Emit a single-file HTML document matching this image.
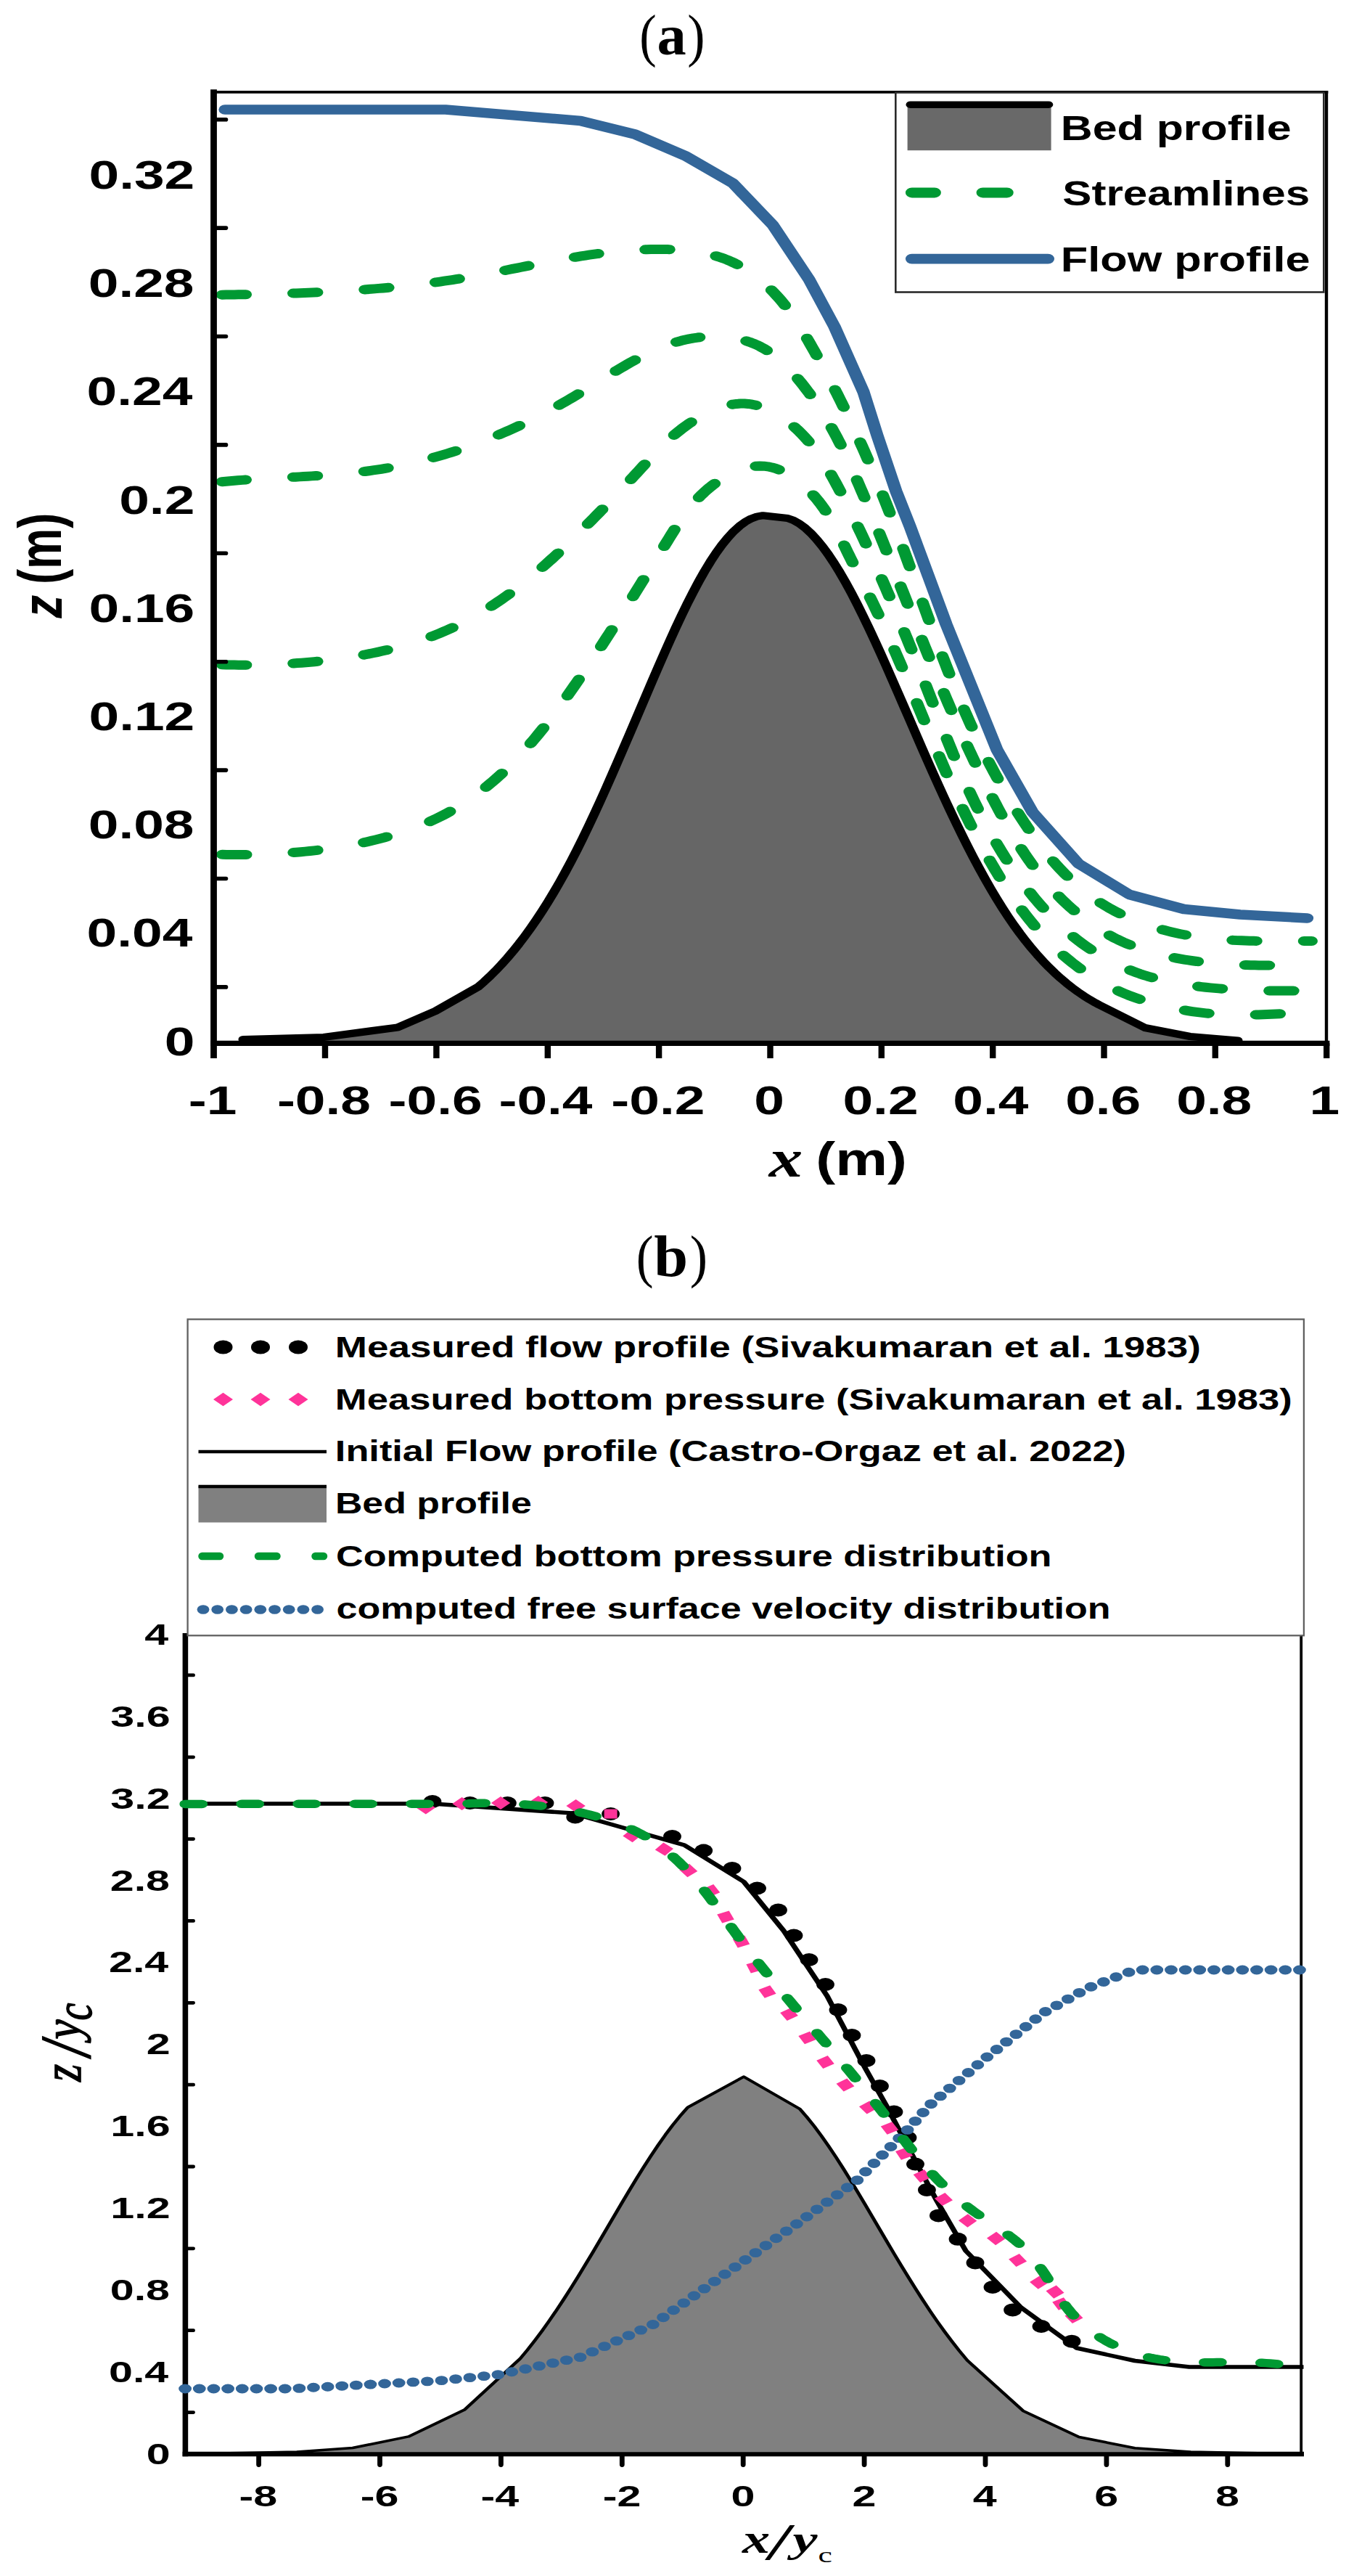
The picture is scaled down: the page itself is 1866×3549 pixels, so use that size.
<!DOCTYPE html>
<html><head><meta charset="utf-8"><title>Figure</title>
<style>html,body{margin:0;padding:0;background:#fff}svg{display:block}text{white-space:pre}</style>
</head><body>
<svg width="1866" height="3549" viewBox="0 0 1866 3549">
<rect width="1866" height="3549" fill="#fff"/>
<g transform="scale(1.28 1)" fill="none" stroke-linejoin="round">
<polygon points="261.72,1437.30 261.72,1432.00 348.44,1429.00 428.12,1415.50 468.75,1393.00 514.92,1359.50 521.17,1352.55 527.42,1345.11 533.67,1337.19 539.92,1328.77 546.17,1319.85 552.42,1310.42 558.67,1300.48 564.92,1290.00 571.17,1279.00 577.42,1267.46 583.67,1255.37 589.92,1242.73 596.17,1229.53 602.42,1215.75 608.67,1201.41 614.92,1186.48 621.17,1170.97 627.42,1154.89 633.67,1138.32 639.92,1121.28 646.17,1103.85 652.42,1086.07 658.67,1067.99 664.92,1049.68 671.17,1031.17 677.42,1012.52 683.67,993.79 689.92,975.03 696.17,956.29 702.42,937.62 708.67,919.10 714.92,900.81 721.17,882.86 727.42,865.31 733.67,848.27 739.92,831.81 746.17,816.04 752.42,801.04 758.67,786.90 764.92,773.70 771.17,761.54 777.42,750.50 783.67,740.66 789.92,732.07 796.17,724.81 802.42,718.94 808.67,714.52 814.92,711.63 821.17,710.33 821.56,710.30 848.05,714.00 854.30,716.93 860.55,721.39 866.80,727.30 873.05,734.59 879.30,743.17 885.55,752.96 891.80,763.89 898.05,775.87 904.30,788.82 910.55,802.67 916.80,817.33 923.05,832.73 929.30,848.78 935.55,865.41 941.80,882.52 948.05,900.06 954.30,917.93 960.55,936.05 966.80,954.35 973.05,972.76 979.30,991.23 985.55,1009.67 991.80,1028.04 998.05,1046.28 1004.30,1064.31 1010.55,1082.11 1016.80,1099.62 1023.05,1116.78 1029.30,1133.56 1035.55,1149.93 1041.80,1165.86 1048.05,1181.33 1054.30,1196.32 1060.55,1210.80 1066.80,1224.76 1073.05,1238.16 1079.30,1251.00 1085.55,1263.24 1091.80,1274.87 1098.05,1285.89 1104.30,1296.34 1110.55,1306.21 1116.80,1315.53 1123.05,1324.31 1129.30,1332.56 1135.55,1340.30 1141.80,1347.56 1148.05,1354.33 1154.30,1360.64 1160.55,1366.50 1166.80,1371.93 1173.05,1376.94 1179.30,1381.55 1183.59,1384.50 1232.81,1416.00 1281.25,1428.00 1332.81,1433.50 1332.81,1437.30" fill="#666" stroke="none"/>
<polyline points="261.72,1432.00 348.44,1429.00 428.12,1415.50 468.75,1393.00 514.92,1359.50 521.17,1352.55 527.42,1345.11 533.67,1337.19 539.92,1328.77 546.17,1319.85 552.42,1310.42 558.67,1300.48 564.92,1290.00 571.17,1279.00 577.42,1267.46 583.67,1255.37 589.92,1242.73 596.17,1229.53 602.42,1215.75 608.67,1201.41 614.92,1186.48 621.17,1170.97 627.42,1154.89 633.67,1138.32 639.92,1121.28 646.17,1103.85 652.42,1086.07 658.67,1067.99 664.92,1049.68 671.17,1031.17 677.42,1012.52 683.67,993.79 689.92,975.03 696.17,956.29 702.42,937.62 708.67,919.10 714.92,900.81 721.17,882.86 727.42,865.31 733.67,848.27 739.92,831.81 746.17,816.04 752.42,801.04 758.67,786.90 764.92,773.70 771.17,761.54 777.42,750.50 783.67,740.66 789.92,732.07 796.17,724.81 802.42,718.94 808.67,714.52 814.92,711.63 821.17,710.33 821.56,710.30 848.05,714.00 854.30,716.93 860.55,721.39 866.80,727.30 873.05,734.59 879.30,743.17 885.55,752.96 891.80,763.89 898.05,775.87 904.30,788.82 910.55,802.67 916.80,817.33 923.05,832.73 929.30,848.78 935.55,865.41 941.80,882.52 948.05,900.06 954.30,917.93 960.55,936.05 966.80,954.35 973.05,972.76 979.30,991.23 985.55,1009.67 991.80,1028.04 998.05,1046.28 1004.30,1064.31 1010.55,1082.11 1016.80,1099.62 1023.05,1116.78 1029.30,1133.56 1035.55,1149.93 1041.80,1165.86 1048.05,1181.33 1054.30,1196.32 1060.55,1210.80 1066.80,1224.76 1073.05,1238.16 1079.30,1251.00 1085.55,1263.24 1091.80,1274.87 1098.05,1285.89 1104.30,1296.34 1110.55,1306.21 1116.80,1315.53 1123.05,1324.31 1129.30,1332.56 1135.55,1340.30 1141.80,1347.56 1148.05,1354.33 1154.30,1360.64 1160.55,1366.50 1166.80,1371.93 1173.05,1376.94 1179.30,1381.55 1183.59,1384.50 1232.81,1416.00 1281.25,1428.00 1332.81,1433.50" stroke="#000" stroke-width="10.2" stroke-linecap="round"/>
<polyline points="238.94,406.17 243.37,406.09 247.80,406.01 252.24,405.93 256.68,405.84 261.12,405.75 265.56,405.65 270.01,405.55 274.45,405.44 278.90,405.32 283.34,405.20 287.79,405.07 292.24,404.93 296.69,404.78 301.14,404.63 305.59,404.46 310.04,404.29 314.49,404.11 318.94,403.92 323.39,403.71 327.84,403.50 332.29,403.28 336.74,403.04 341.19,402.79 345.63,402.53 350.08,402.26 354.53,401.98 358.98,401.68 363.42,401.37 367.86,401.04 372.31,400.70 376.75,400.34 381.19,399.97 385.62,399.59 390.06,399.19 394.49,398.77 398.93,398.33 403.36,397.88 407.78,397.41 412.21,396.93 416.63,396.42 421.05,395.90 425.47,395.36 429.88,394.79 434.29,394.21 438.70,393.61 443.11,392.99 447.51,392.35 451.91,391.68 456.30,391.00 460.70,390.29 465.08,389.56 469.47,388.81 473.85,388.03 478.22,387.23 482.60,386.41 486.96,385.57 491.33,384.70 495.68,383.80 500.04,382.88 504.39,381.93 508.73,380.96 513.07,379.97 517.41,378.97 521.74,377.94 526.07,376.90 530.40,375.84 534.73,374.77 539.05,373.70 543.38,372.61 547.70,371.52 552.02,370.42 556.34,369.33 560.66,368.23 564.98,367.13 569.30,366.03 573.62,364.94 577.94,363.86 582.26,362.78 586.59,361.71 590.92,360.66 595.25,359.62 599.58,358.60 603.91,357.59 608.25,356.60 612.60,355.64 616.94,354.69 621.30,353.77 625.65,352.88 630.01,352.02 634.38,351.19 638.75,350.39 643.13,349.62 647.52,348.89 651.91,348.20 656.31,347.55 660.71,346.93 665.13,346.37 669.55,345.84 673.98,345.37 678.42,344.94 682.87,344.56 687.33,344.24 691.80,343.97 696.28,343.75 700.77,343.60 705.27,343.50 709.78,343.47 714.30,343.50 718.82,343.61 723.34,343.79 727.85,344.06 732.34,344.42 736.82,344.88 741.28,345.44 745.71,346.12 750.10,346.91 754.45,347.82 758.76,348.87 763.02,350.05 767.23,351.37 771.37,352.84 775.45,354.47 779.46,356.26 783.40,358.21 787.25,360.33 791.03,362.60 794.73,365.03 798.36,367.59 801.90,370.28 805.37,373.10 808.76,376.04 812.07,379.09 815.31,382.25 818.46,385.49 821.53,388.83 824.53,392.24 827.45,395.73 830.28,399.28 833.04,402.88 835.72,406.54 838.32,410.24 840.84,413.98 843.29,417.75 845.66,421.56 847.98,425.40 850.23,429.27 852.42,433.16 854.56,437.09 856.65,441.03 858.69,445.00 860.69,448.99 862.66,453.00 864.59,457.02 866.48,461.06 868.36,465.11 870.21,469.16 872.04,473.23 873.85,477.30 875.66,481.38 877.45,485.46 879.23,489.54 881.00,493.63 882.76,497.72 884.51,501.81 886.25,505.91 887.97,510.01 889.69,514.12 891.39,518.23 893.09,522.35 894.77,526.46 896.44,530.59 898.10,534.71 899.76,538.84 901.40,542.97 903.03,547.11 904.65,551.25 906.26,555.39 907.86,559.54 909.45,563.69 911.03,567.84 912.60,572.00 914.16,576.16 915.71,580.33 917.25,584.50 918.78,588.67 920.31,592.84 921.82,597.02 923.32,601.20 924.81,605.39 926.30,609.58 927.77,613.77 929.24,617.96 930.70,622.16 932.15,626.36 933.58,630.57 935.01,634.77 936.44,638.98 937.85,643.20 939.25,647.42 940.65,651.64 942.04,655.86 943.41,660.09 944.78,664.32 946.15,668.55 947.50,672.78 948.84,677.02 950.18,681.26 951.51,685.51 952.83,689.76 954.15,694.01 955.45,698.26 956.75,702.51 958.04,706.77 959.33,711.03 960.60,715.30 961.87,719.56 963.14,723.83 964.40,728.10 965.65,732.37 966.90,736.65 968.14,740.92 969.38,745.20 970.62,749.48 971.85,753.76 973.07,758.04 974.30,762.32 975.52,766.61 976.73,770.89 977.95,775.18 979.16,779.47 980.37,783.76 981.58,788.04 982.79,792.33 983.99,796.62 985.20,800.91 986.40,805.20 987.60,809.49 988.81,813.78 990.01,818.07 991.22,822.36 992.42,826.65 993.63,830.94 994.84,835.23 996.05,839.52 997.26,843.81 998.47,848.09 999.69,852.38 1000.91,856.66 1002.13,860.95 1003.35,865.23 1004.58,869.51 1005.82,873.79 1007.05,878.07 1008.30,882.35 1009.54,886.62 1010.79,890.89 1012.05,895.16 1013.32,899.43 1014.58,903.70 1015.86,907.96 1017.14,912.22 1018.43,916.48 1019.73,920.74 1021.03,924.99 1022.34,929.24 1023.66,933.49 1024.99,937.74 1026.32,941.98 1027.67,946.22 1029.02,950.45 1030.39,954.68 1031.76,958.91 1033.14,963.14 1034.54,967.36 1035.94,971.57 1037.36,975.79 1038.78,980.00 1040.22,984.20 1041.67,988.40 1043.13,992.60 1044.60,996.79 1046.09,1000.97 1047.59,1005.16 1049.10,1009.33 1050.63,1013.51 1052.17,1017.67 1053.72,1021.83 1055.29,1025.99 1056.87,1030.14 1058.47,1034.29 1060.08,1038.43 1061.71,1042.56 1063.35,1046.69 1065.01,1050.82 1066.69,1054.93 1068.38,1059.04 1070.09,1063.15 1071.82,1067.25 1073.56,1071.34 1075.32,1075.43 1077.10,1079.50 1078.90,1083.58 1080.72,1087.64 1082.55,1091.70 1084.41,1095.75 1086.28,1099.80 1088.18,1103.83 1090.09,1107.86 1092.03,1111.89 1093.98,1115.90 1095.96,1119.91 1097.96,1123.91 1099.98,1127.90 1102.02,1131.88 1104.08,1135.86 1106.17,1139.82 1108.28,1143.77 1110.42,1147.71 1112.58,1151.64 1114.78,1155.54 1117.00,1159.43 1119.26,1163.30 1121.54,1167.14 1123.87,1170.96 1126.23,1174.75 1128.62,1178.52 1131.06,1182.25 1133.53,1185.96 1136.05,1189.62 1138.60,1193.26 1141.21,1196.85 1143.85,1200.41 1146.55,1203.92 1149.29,1207.39 1152.08,1210.82 1154.92,1214.20 1157.81,1217.53 1160.76,1220.81 1163.76,1224.03 1166.82,1227.21 1169.93,1230.33 1173.11,1233.39 1176.34,1236.39 1179.64,1239.32 1183.00,1242.20 1186.42,1245.01 1189.91,1247.75 1193.47,1250.43 1197.09,1253.03 1200.78,1255.56 1204.54,1258.02 1208.36,1260.40 1212.24,1262.71 1216.17,1264.94 1220.15,1267.10 1224.18,1269.18 1228.25,1271.18 1232.36,1273.10 1236.52,1274.94 1240.70,1276.70 1244.92,1278.38 1249.16,1279.97 1253.43,1281.48 1257.72,1282.91 1262.03,1284.25 1266.35,1285.51 1270.68,1286.67 1275.02,1287.76 1279.37,1288.76 1283.73,1289.69 1288.10,1290.54 1292.48,1291.32 1296.86,1292.03 1301.26,1292.68 1305.66,1293.27 1310.07,1293.79 1314.48,1294.26 1318.90,1294.67 1323.33,1295.04 1327.75,1295.36 1332.19,1295.63 1336.63,1295.86 1341.07,1296.06 1345.51,1296.22 1349.96,1296.34 1354.41,1296.44 1358.86,1296.51 1363.32,1296.56 1367.77,1296.60 1372.22,1296.61 1376.68,1296.61 1381.13,1296.60 1385.58,1296.58 1390.03,1296.56 1394.48,1296.53 1398.93,1296.51 1403.37,1296.49 1407.81,1296.48 1412.25,1296.48" stroke="#093" stroke-width="13" stroke-linecap="round" stroke-dasharray="25.7 51.25"/>
<polyline points="239.04,663.72 243.35,663.20 247.67,662.70 252.01,662.24 256.35,661.80 260.70,661.38 265.07,660.99 269.44,660.61 273.82,660.26 278.21,659.91 282.60,659.58 287.00,659.27 291.41,658.96 295.82,658.65 300.24,658.36 304.66,658.06 309.09,657.77 313.52,657.47 317.95,657.17 322.38,656.87 326.81,656.55 331.24,656.23 335.67,655.89 340.10,655.54 344.53,655.18 348.96,654.79 353.38,654.38 357.80,653.96 362.22,653.50 366.63,653.02 371.03,652.51 375.43,651.97 379.82,651.40 384.21,650.79 388.58,650.14 392.95,649.46 397.31,648.73 401.65,647.96 405.99,647.14 410.32,646.27 414.63,645.36 418.94,644.40 423.23,643.40 427.51,642.34 431.77,641.25 436.03,640.10 440.27,638.92 444.50,637.69 448.72,636.42 452.92,635.10 457.12,633.74 461.29,632.34 465.46,630.90 469.61,629.42 473.75,627.90 477.87,626.34 481.98,624.74 486.07,623.10 490.15,621.43 494.22,619.71 498.27,617.96 502.30,616.18 506.32,614.35 510.33,612.50 514.32,610.60 518.29,608.68 522.25,606.72 526.19,604.72 530.12,602.69 534.02,600.64 537.92,598.54 541.79,596.42 545.65,594.27 549.49,592.09 553.32,589.88 557.13,587.63 560.92,585.36 564.69,583.07 568.44,580.74 572.18,578.39 575.89,576.01 579.59,573.60 583.27,571.17 586.94,568.72 590.58,566.24 594.20,563.73 597.81,561.21 601.39,558.66 604.96,556.08 608.50,553.49 612.03,550.87 615.53,548.24 619.02,545.58 622.49,542.91 625.95,540.23 629.41,537.53 632.86,534.82 636.30,532.10 639.75,529.37 643.20,526.65 646.65,523.92 650.12,521.18 653.60,518.46 657.09,515.73 660.61,513.01 664.14,510.30 667.70,507.60 671.29,504.92 674.91,502.24 678.57,499.59 682.26,496.96 685.98,494.37 689.74,491.83 693.54,489.34 697.37,486.91 701.24,484.55 705.16,482.27 709.11,480.09 713.10,478.00 717.14,476.01 721.22,474.15 725.34,472.40 729.51,470.79 733.72,469.33 737.98,468.01 742.28,466.85 746.63,465.86 751.02,465.05 755.44,464.40 759.87,463.93 764.31,463.64 768.75,463.54 773.17,463.61 777.57,463.87 781.95,464.33 786.28,464.97 790.55,465.81 794.77,466.85 798.92,468.08 802.98,469.52 806.96,471.17 810.83,473.02 814.59,475.08 818.25,477.34 821.80,479.79 825.25,482.41 828.61,485.20 831.87,488.15 835.04,491.23 838.12,494.45 841.12,497.78 844.04,501.22 846.88,504.76 849.66,508.37 852.36,512.06 854.99,515.81 857.57,519.61 860.09,523.45 862.55,527.30 864.96,531.18 867.32,535.06 869.63,538.95 871.90,542.85 874.12,546.76 876.29,550.68 878.42,554.61 880.51,558.55 882.56,562.50 884.57,566.46 886.53,570.43 888.46,574.41 890.36,578.40 892.21,582.41 894.03,586.42 895.82,590.45 897.58,594.49 899.30,598.54 900.99,602.60 902.66,606.68 904.29,610.76 905.91,614.86 907.49,618.96 909.06,623.08 910.60,627.20 912.12,631.33 913.63,635.47 915.11,639.61 916.59,643.76 918.04,647.92 919.49,652.08 920.92,656.25 922.35,660.42 923.77,664.59 925.18,668.76 926.58,672.94 927.99,677.12 929.38,681.30 930.77,685.48 932.16,689.66 933.54,693.85 934.91,698.04 936.28,702.23 937.65,706.42 939.01,710.61 940.37,714.80 941.73,719.00 943.08,723.20 944.42,727.39 945.77,731.59 947.11,735.80 948.45,740.00 949.78,744.20 951.11,748.40 952.44,752.61 953.77,756.82 955.10,761.02 956.42,765.23 957.74,769.44 959.06,773.65 960.37,777.86 961.69,782.07 963.00,786.28 964.32,790.49 965.63,794.71 966.94,798.92 968.25,803.13 969.56,807.34 970.87,811.56 972.18,815.77 973.49,819.99 974.79,824.20 976.10,828.41 977.41,832.63 978.72,836.84 980.03,841.06 981.34,845.27 982.65,849.48 983.97,853.70 985.28,857.91 986.60,862.12 987.91,866.34 989.23,870.55 990.55,874.76 991.88,878.97 993.20,883.18 994.53,887.39 995.86,891.60 997.19,895.80 998.52,900.01 999.86,904.22 1001.20,908.42 1002.55,912.63 1003.89,916.83 1005.24,921.03 1006.60,925.23 1007.96,929.43 1009.32,933.63 1010.69,937.82 1012.06,942.02 1013.43,946.21 1014.81,950.40 1016.20,954.59 1017.59,958.78 1018.98,962.97 1020.38,967.15 1021.79,971.34 1023.20,975.52 1024.61,979.70 1026.03,983.88 1027.46,988.05 1028.90,992.23 1030.34,996.40 1031.79,1000.57 1033.24,1004.73 1034.70,1008.90 1036.17,1013.06 1037.64,1017.22 1039.12,1021.38 1040.61,1025.53 1042.11,1029.69 1043.61,1033.84 1045.13,1037.98 1046.65,1042.13 1048.17,1046.27 1049.71,1050.41 1051.26,1054.54 1052.81,1058.68 1054.37,1062.81 1055.94,1066.93 1057.52,1071.06 1059.11,1075.18 1060.71,1079.30 1062.32,1083.41 1063.94,1087.52 1065.57,1091.63 1067.21,1095.73 1068.85,1099.83 1070.51,1103.93 1072.18,1108.03 1073.86,1112.12 1075.55,1116.20 1077.26,1120.28 1078.98,1124.35 1080.71,1128.42 1082.46,1132.48 1084.23,1136.53 1086.02,1140.57 1087.83,1144.60 1089.67,1148.62 1091.52,1152.62 1093.40,1156.62 1095.31,1160.60 1097.24,1164.56 1099.20,1168.51 1101.19,1172.44 1103.21,1176.36 1105.27,1180.25 1107.36,1184.13 1109.48,1187.99 1111.64,1191.82 1113.83,1195.64 1116.07,1199.43 1118.34,1203.20 1120.66,1206.94 1123.01,1210.66 1125.41,1214.36 1127.86,1218.02 1130.35,1221.66 1132.89,1225.27 1135.48,1228.85 1138.12,1232.40 1140.81,1235.92 1143.55,1239.41 1146.35,1242.86 1149.20,1246.29 1152.10,1249.67 1155.06,1253.01 1158.08,1256.31 1161.15,1259.57 1164.27,1262.77 1167.45,1265.92 1170.68,1269.01 1173.96,1272.03 1177.29,1275.00 1180.68,1277.89 1184.12,1280.71 1187.61,1283.45 1191.14,1286.12 1194.73,1288.70 1198.37,1291.19 1202.06,1293.59 1205.80,1295.90 1209.58,1298.11 1213.42,1300.23 1217.29,1302.26 1221.21,1304.19 1225.18,1306.04 1229.18,1307.81 1233.22,1309.48 1237.30,1311.08 1241.41,1312.60 1245.56,1314.03 1249.73,1315.39 1253.94,1316.68 1258.18,1317.89 1262.45,1319.03 1266.74,1320.10 1271.05,1321.11 1275.39,1322.05 1279.75,1322.92 1284.12,1323.74 1288.52,1324.49 1292.93,1325.19 1297.35,1325.83 1301.79,1326.42 1306.24,1326.95 1310.70,1327.43 1315.17,1327.87 1319.64,1328.26 1324.12,1328.60 1328.60,1328.90 1333.08,1329.16 1337.57,1329.38 1342.05,1329.56 1346.52,1329.71 1351.00,1329.82 1355.46,1329.90 1359.92,1329.96 1364.37,1329.98 1368.81,1329.98 1373.23,1329.95 1377.64,1329.90 1382.04,1329.83 1386.41,1329.75 1390.77,1329.64 1395.11,1329.53 1399.42,1329.39 1403.71,1329.25 1407.97,1329.10 1412.21,1328.94" stroke="#093" stroke-width="13" stroke-linecap="round" stroke-dasharray="25.7 51.25"/>
<polyline points="239.15,915.87 243.53,915.98 247.93,916.06 252.35,916.12 256.79,916.15 261.24,916.16 265.71,916.14 270.19,916.10 274.69,916.02 279.19,915.92 283.71,915.79 288.24,915.63 292.77,915.44 297.32,915.21 301.86,914.96 306.42,914.67 310.98,914.35 315.54,913.99 320.11,913.60 324.68,913.17 329.24,912.71 333.81,912.21 338.38,911.67 342.94,911.09 347.50,910.48 352.05,909.82 356.60,909.13 361.14,908.39 365.68,907.61 370.20,906.79 374.72,905.92 379.22,905.01 383.71,904.06 388.19,903.06 392.66,902.02 397.11,900.92 401.54,899.78 405.96,898.60 410.36,897.36 414.73,896.07 419.09,894.74 423.43,893.35 427.75,891.91 432.04,890.42 436.30,888.87 440.55,887.27 444.76,885.62 448.95,883.91 453.11,882.14 457.24,880.32 461.34,878.44 465.40,876.51 469.44,874.51 473.44,872.46 477.40,870.34 481.33,868.17 485.23,865.93 489.09,863.63 492.91,861.28 496.70,858.87 500.45,856.41 504.18,853.89 507.86,851.32 511.52,848.70 515.14,846.02 518.74,843.30 522.30,840.54 525.83,837.72 529.33,834.86 532.80,831.96 536.24,829.02 539.66,826.03 543.04,823.01 546.40,819.95 549.74,816.85 553.04,813.72 556.32,810.55 559.57,807.35 562.80,804.12 566.00,800.86 569.18,797.57 572.34,794.25 575.47,790.91 578.59,787.54 581.67,784.15 584.74,780.73 587.79,777.30 590.81,773.84 593.82,770.37 596.80,766.88 599.77,763.38 602.72,759.86 605.65,756.32 608.56,752.78 611.46,749.22 614.34,745.66 617.20,742.09 620.05,738.51 622.88,734.93 625.70,731.34 628.50,727.75 631.29,724.16 634.07,720.58 636.83,716.99 639.59,713.40 642.33,709.82 645.06,706.24 647.78,702.67 650.49,699.10 653.18,695.53 655.88,691.96 658.56,688.40 661.23,684.82 663.90,681.25 666.56,677.67 669.22,674.08 671.87,670.49 674.51,666.89 677.15,663.28 679.79,659.66 682.42,656.02 685.05,652.38 687.68,648.72 690.31,645.04 692.94,641.36 695.58,637.67 698.25,633.97 700.93,630.28 703.65,626.60 706.40,622.93 709.19,619.27 712.04,615.63 714.94,612.01 717.90,608.43 720.93,604.87 724.03,601.35 727.21,597.88 730.48,594.45 733.84,591.06 737.31,587.74 740.87,584.47 744.53,581.28 748.29,578.19 752.12,575.21 756.03,572.38 760.00,569.70 764.03,567.21 768.11,564.91 772.22,562.83 776.37,560.98 780.55,559.40 784.74,558.10 788.94,557.09 793.13,556.41 797.32,556.06 801.49,556.08 805.64,556.47 809.76,557.22 813.83,558.33 817.87,559.76 821.86,561.50 825.79,563.52 829.67,565.81 833.48,568.34 837.21,571.10 840.88,574.06 844.46,577.20 847.95,580.51 851.34,583.97 854.64,587.54 857.84,591.22 860.92,594.98 863.89,598.81 866.74,602.67 869.47,606.58 872.09,610.53 874.61,614.51 877.04,618.52 879.37,622.55 881.63,626.62 883.80,630.71 885.91,634.82 887.95,638.94 889.93,643.08 891.86,647.24 893.74,651.40 895.59,655.57 897.40,659.75 899.19,663.92 900.96,668.10 902.70,672.27 904.43,676.44 906.14,680.62 907.84,684.79 909.52,688.97 911.18,693.15 912.83,697.32 914.46,701.51 916.09,705.69 917.70,709.88 919.30,714.07 920.89,718.27 922.47,722.47 924.04,726.68 925.61,730.89 927.17,735.11 928.72,739.33 930.27,743.56 931.81,747.80 933.35,752.05 934.88,756.30 936.40,760.55 937.92,764.81 939.43,769.08 940.94,773.35 942.44,777.63 943.94,781.91 945.43,786.20 946.92,790.49 948.40,794.78 949.88,799.08 951.35,803.39 952.81,807.69 954.27,812.00 955.73,816.32 957.18,820.64 958.63,824.96 960.07,829.28 961.51,833.61 962.94,837.94 964.37,842.27 965.80,846.60 967.22,850.94 968.63,855.28 970.04,859.62 971.45,863.96 972.85,868.30 974.25,872.65 975.65,876.99 977.04,881.34 978.43,885.68 979.81,890.03 981.19,894.38 982.57,898.73 983.94,903.08 985.31,907.43 986.67,911.77 988.04,916.12 989.39,920.47 990.75,924.82 992.10,929.16 993.45,933.51 994.80,937.85 996.14,942.19 997.48,946.53 998.81,950.87 1000.15,955.21 1001.48,959.54 1002.81,963.87 1004.13,968.20 1005.46,972.53 1006.78,976.85 1008.11,981.18 1009.43,985.50 1010.76,989.81 1012.08,994.13 1013.41,998.44 1014.75,1002.75 1016.08,1007.05 1017.42,1011.36 1018.77,1015.66 1020.12,1019.96 1021.48,1024.25 1022.84,1028.54 1024.21,1032.83 1025.59,1037.12 1026.98,1041.40 1028.38,1045.68 1029.79,1049.95 1031.20,1054.22 1032.63,1058.49 1034.07,1062.75 1035.53,1067.02 1036.99,1071.27 1038.47,1075.53 1039.97,1079.78 1041.48,1084.02 1043.01,1088.26 1044.55,1092.50 1046.11,1096.74 1047.68,1100.97 1049.28,1105.19 1050.89,1109.41 1052.52,1113.63 1054.18,1117.85 1055.85,1122.06 1057.55,1126.26 1059.26,1130.46 1061.00,1134.66 1062.76,1138.85 1064.55,1143.03 1066.36,1147.22 1068.20,1151.39 1070.06,1155.57 1071.95,1159.73 1073.86,1163.90 1075.81,1168.06 1077.78,1172.21 1079.78,1176.36 1081.81,1180.50 1083.87,1184.63 1085.96,1188.76 1088.08,1192.87 1090.23,1196.97 1092.42,1201.06 1094.63,1205.13 1096.88,1209.18 1099.17,1213.21 1101.48,1217.22 1103.83,1221.21 1106.22,1225.18 1108.64,1229.12 1111.10,1233.03 1113.59,1236.91 1116.12,1240.76 1118.69,1244.58 1121.29,1248.37 1123.94,1252.12 1126.62,1255.83 1129.34,1259.50 1132.10,1263.14 1134.90,1266.73 1137.74,1270.27 1140.63,1273.77 1143.55,1277.22 1146.52,1280.63 1149.53,1283.98 1152.58,1287.28 1155.67,1290.53 1158.81,1293.72 1162.00,1296.86 1165.23,1299.94 1168.50,1302.95 1171.82,1305.91 1175.19,1308.80 1178.60,1311.62 1182.07,1314.38 1185.58,1317.07 1189.13,1319.69 1192.74,1322.24 1196.40,1324.71 1200.10,1327.11 1203.86,1329.43 1207.67,1331.68 1211.53,1333.84 1215.44,1335.92 1219.40,1337.92 1223.41,1339.83 1227.48,1341.66 1231.61,1343.40 1235.78,1345.05 1240.01,1346.61 1244.28,1348.10 1248.59,1349.50 1252.95,1350.82 1257.35,1352.07 1261.78,1353.24 1266.25,1354.35 1270.75,1355.38 1275.28,1356.34 1279.84,1357.24 1284.42,1358.08 1289.02,1358.85 1293.64,1359.57 1298.28,1360.23 1302.93,1360.84 1307.59,1361.39 1312.26,1361.90 1316.93,1362.36 1321.61,1362.77 1326.29,1363.14 1330.96,1363.47 1335.64,1363.76 1340.30,1364.02 1344.96,1364.24 1349.60,1364.43 1354.23,1364.59 1358.84,1364.72 1363.43,1364.83 1368.00,1364.92 1372.54,1364.98 1377.06,1365.03 1381.54,1365.06 1386.00,1365.08 1390.41,1365.09 1394.79,1365.08 1399.13,1365.07 1403.43,1365.06 1407.67,1365.04 1411.88,1365.02" stroke="#093" stroke-width="13" stroke-linecap="round" stroke-dasharray="25.7 51.25"/>
<polyline points="239.30,1177.32 243.81,1177.42 248.35,1177.50 252.92,1177.54 257.52,1177.55 262.15,1177.52 266.80,1177.46 271.47,1177.37 276.17,1177.23 280.88,1177.07 285.62,1176.86 290.37,1176.61 295.13,1176.33 299.91,1176.00 304.70,1175.63 309.49,1175.22 314.30,1174.77 319.11,1174.27 323.93,1173.73 328.75,1173.14 333.56,1172.51 338.38,1171.83 343.20,1171.10 348.01,1170.32 352.81,1169.50 357.61,1168.62 362.39,1167.69 367.17,1166.71 371.93,1165.67 376.67,1164.58 381.40,1163.44 386.12,1162.24 390.81,1160.98 395.48,1159.67 400.12,1158.30 404.74,1156.86 409.33,1155.37 413.90,1153.82 418.43,1152.21 422.93,1150.53 427.40,1148.80 431.83,1146.99 436.22,1145.13 440.58,1143.19 444.89,1141.19 449.16,1139.13 453.38,1136.99 457.56,1134.79 461.69,1132.51 465.78,1130.17 469.81,1127.75 473.78,1125.26 477.70,1122.70 481.57,1120.07 485.39,1117.36 489.15,1114.59 492.87,1111.75 496.53,1108.85 500.14,1105.89 503.71,1102.86 507.23,1099.77 510.70,1096.63 514.12,1093.42 517.50,1090.16 520.84,1086.85 524.13,1083.48 527.38,1080.07 530.59,1076.60 533.75,1073.09 536.88,1069.53 539.97,1065.92 543.02,1062.27 546.03,1058.58 549.00,1054.85 551.94,1051.09 554.85,1047.28 557.72,1043.44 560.55,1039.57 563.36,1035.66 566.13,1031.72 568.87,1027.76 571.58,1023.76 574.27,1019.74 576.92,1015.70 579.55,1011.63 582.15,1007.54 584.73,1003.43 587.28,999.31 589.80,995.16 592.30,991.00 594.79,986.83 597.24,982.65 599.68,978.45 602.10,974.25 604.50,970.04 606.88,965.82 609.25,961.60 611.60,957.38 613.93,953.15 616.25,948.93 618.55,944.70 620.84,940.48 623.12,936.27 625.39,932.05 627.64,927.83 629.88,923.62 632.11,919.41 634.33,915.20 636.53,910.99 638.73,906.78 640.92,902.57 643.10,898.36 645.27,894.15 647.43,889.95 649.58,885.74 651.72,881.53 653.86,877.32 655.99,873.11 658.11,868.90 660.23,864.69 662.34,860.48 664.44,856.26 666.54,852.05 668.64,847.83 670.73,843.61 672.81,839.39 674.89,835.16 676.97,830.93 679.05,826.70 681.12,822.47 683.19,818.23 685.26,814.00 687.33,809.75 689.40,805.51 691.46,801.26 693.53,797.00 695.60,792.74 697.66,788.48 699.73,784.21 701.80,779.94 703.87,775.66 705.94,771.38 708.02,767.09 710.10,762.79 712.18,758.49 714.27,754.19 716.35,749.88 718.45,745.56 720.55,741.23 722.65,736.90 724.77,732.57 726.91,728.24 729.09,723.92 731.30,719.62 733.57,715.33 735.90,711.07 738.30,706.84 740.78,702.65 743.36,698.49 746.03,694.39 748.81,690.33 751.70,686.33 754.73,682.40 757.89,678.53 761.20,674.74 764.66,671.03 768.27,667.42 772.01,663.95 775.88,660.63 779.84,657.49 783.90,654.57 788.04,651.88 792.24,649.46 796.50,647.33 800.80,645.52 805.12,644.05 809.46,642.96 813.79,642.26 818.11,641.99 822.41,642.18 826.67,642.83 830.88,643.92 835.03,645.43 839.13,647.33 843.15,649.59 847.10,652.17 850.97,655.06 854.74,658.21 858.41,661.61 861.98,665.22 865.44,669.02 868.77,672.97 871.98,677.05 875.05,681.22 877.97,685.46 880.75,689.75 883.38,694.06 885.88,698.40 888.25,702.77 890.50,707.15 892.66,711.56 894.72,715.98 896.69,720.41 898.59,724.86 900.43,729.31 902.21,733.77 903.95,738.23 905.66,742.68 907.34,747.14 909.01,751.59 910.68,756.03 912.36,760.46 914.05,764.88 915.74,769.29 917.45,773.68 919.16,778.08 920.88,782.46 922.61,786.85 924.33,791.22 926.06,795.60 927.79,799.98 929.51,804.36 931.24,808.75 932.95,813.14 934.67,817.53 936.37,821.94 938.07,826.35 939.75,830.78 941.43,835.21 943.09,839.66 944.75,844.12 946.40,848.59 948.03,853.06 949.66,857.55 951.28,862.04 952.89,866.54 954.49,871.05 956.08,875.56 957.67,880.09 959.25,884.61 960.82,889.15 962.38,893.68 963.93,898.23 965.48,902.77 967.03,907.32 968.56,911.88 970.09,916.43 971.62,920.99 973.13,925.55 974.65,930.11 976.16,934.67 977.66,939.23 979.16,943.79 980.65,948.35 982.14,952.91 983.63,957.46 985.11,962.02 986.59,966.57 988.07,971.12 989.54,975.66 991.01,980.20 992.48,984.74 993.94,989.27 995.41,993.80 996.87,998.32 998.34,1002.85 999.81,1007.36 1001.27,1011.88 1002.74,1016.39 1004.22,1020.89 1005.69,1025.39 1007.17,1029.89 1008.65,1034.39 1010.14,1038.88 1011.63,1043.37 1013.13,1047.85 1014.64,1052.33 1016.15,1056.81 1017.67,1061.28 1019.20,1065.75 1020.73,1070.22 1022.28,1074.68 1023.83,1079.15 1025.40,1083.60 1026.97,1088.06 1028.56,1092.51 1030.16,1096.96 1031.77,1101.40 1033.40,1105.84 1035.04,1110.28 1036.69,1114.72 1038.36,1119.15 1040.05,1123.58 1041.75,1128.00 1043.46,1132.43 1045.20,1136.85 1046.95,1141.27 1048.72,1145.68 1050.50,1150.09 1052.31,1154.50 1054.14,1158.91 1055.98,1163.31 1057.85,1167.72 1059.74,1172.11 1061.66,1176.51 1063.59,1180.90 1065.55,1185.30 1067.53,1189.68 1069.54,1194.07 1071.57,1198.45 1073.63,1202.83 1075.71,1207.20 1077.82,1211.57 1079.96,1215.92 1082.13,1220.27 1084.33,1224.60 1086.56,1228.91 1088.82,1233.21 1091.12,1237.48 1093.44,1241.74 1095.80,1245.98 1098.20,1250.19 1100.63,1254.38 1103.10,1258.54 1105.61,1262.67 1108.16,1266.76 1110.74,1270.83 1113.37,1274.86 1116.03,1278.86 1118.74,1282.81 1121.49,1286.73 1124.29,1290.61 1127.12,1294.44 1130.01,1298.23 1132.94,1301.97 1135.91,1305.66 1138.94,1309.30 1142.01,1312.89 1145.13,1316.43 1148.30,1319.91 1151.52,1323.33 1154.80,1326.69 1158.13,1329.99 1161.51,1333.24 1164.94,1336.41 1168.43,1339.52 1171.98,1342.56 1175.58,1345.53 1179.25,1348.44 1182.97,1351.26 1186.75,1354.02 1190.59,1356.69 1194.49,1359.29 1198.45,1361.81 1202.47,1364.24 1206.56,1366.59 1210.72,1368.86 1214.93,1371.04 1219.21,1373.13 1223.55,1375.14 1227.94,1377.06 1232.39,1378.89 1236.88,1380.64 1241.42,1382.31 1246.00,1383.89 1250.61,1385.39 1255.26,1386.80 1259.94,1388.13 1264.65,1389.38 1269.39,1390.54 1274.14,1391.62 1278.92,1392.63 1283.71,1393.55 1288.51,1394.39 1293.31,1395.14 1298.12,1395.82 1302.93,1396.42 1307.74,1396.94 1312.55,1397.38 1317.34,1397.75 1322.12,1398.03 1326.89,1398.24 1331.64,1398.37 1336.36,1398.42 1341.06,1398.40 1345.73,1398.30 1350.37,1398.13 1355.00,1397.92 1359.62,1397.68 1364.24,1397.43 1368.87,1397.18 1373.51,1396.95 1378.18,1396.76 1382.88,1396.62 1387.62,1396.56 1392.40,1396.58 1397.25,1396.71 1402.15,1396.96 1407.13,1397.35 1412.19,1397.90" stroke="#093" stroke-width="13" stroke-linecap="round" stroke-dasharray="25.7 51.25"/>
<polyline points="242.19,151.00 479.69,151.00 625.00,166.50 683.59,185.00 738.28,215.00 789.06,252.50 832.03,310.00 871.09,385.00 898.44,450.00 929.69,540.00 944.53,600.00 964.84,677.00 979.69,725.00 1018.75,860.00 1073.44,1033.00 1111.72,1119.00 1161.33,1190.00 1216.02,1232.50 1274.61,1252.50 1335.16,1260.00 1407.42,1265.00" stroke="#369" stroke-width="13.5" stroke-linecap="round"/>
</g>
<g stroke="#000" fill="none">
<path d="M294.7 126.8H1830.3" stroke-width="3.7"/>
<path d="M1828 125V1437.3" stroke-width="4.4"/>
<path d="M294.5 123.3V1458" stroke-width="8.8"/>
<path d="M290.5 1437.3H1832.4" stroke-width="7.2"/>
<path d="M298 164.7H311.5M298 314.1H311.5M298 463.5H311.5M298 612.9H311.5M298 762.3H311.5M298 911.7H311.5M298 1061.1H311.5M298 1210.5H311.5M298 1359.9H311.5" stroke-width="5.6" stroke-linecap="round"/>
<path d="M448.0 1437.3V1458M601.4 1437.3V1458M754.8 1437.3V1458M908.1 1437.3V1458M1061.5 1437.3V1458M1214.8 1437.3V1458M1368.2 1437.3V1458M1521.5 1437.3V1458M1674.8 1437.3V1458M1828.2 1437.3V1458" stroke-width="8.4"/>
</g>
<rect x="1234.3" y="127.5" width="590" height="275" fill="#fff" stroke="#2a2a2a" stroke-width="2.6"/>
<rect x="1250.6" y="146" width="198" height="61.2" fill="#696969"/>
<g transform="scale(1.28 1)" fill="none" stroke-linecap="round">
<path d="M980.2 144.2H1129" stroke="#000" stroke-width="9.6"/>
<path d="M981.9 265.4H1006.2M1058.2 265.4H1084.2" stroke="#093" stroke-width="14"/>
<path d="M981.7 356.6H1128.4" stroke="#369" stroke-width="13.6"/>
</g>
<g fill="#000">
<text transform="matrix(0.6084 0 0 0.4734 1461.85 192.56)" font-family="'Liberation Sans', 'DejaVu Sans', sans-serif" font-size="100" font-weight="bold">Bed profile</text>
<text transform="matrix(0.6013 0 0 0.4757 1464.30 282.72)" font-family="'Liberation Sans', 'DejaVu Sans', sans-serif" font-size="100" font-weight="bold">Streamlines</text>
<text transform="matrix(0.6127 0 0 0.4787 1461.82 374.45)" font-family="'Liberation Sans', 'DejaVu Sans', sans-serif" font-size="100" font-weight="bold">Flow profile</text>
<text transform="matrix(0.7037 0 0 0.8043 881.19 75.80)" font-family="'Liberation Serif', 'DejaVu Serif', serif" font-size="100">(</text>
<text transform="matrix(0.8043 0 0 0.7917 905.59 74.71)" font-family="'Liberation Serif', 'DejaVu Serif', serif" font-size="100" font-weight="bold">a</text>
<text transform="matrix(0.7308 0 0 0.8043 947.31 75.80)" font-family="'Liberation Serif', 'DejaVu Serif', serif" font-size="100">)</text>
<text transform="matrix(0.7489 0 0 0.5535 122.55 259.90)" font-family="'Liberation Sans', 'DejaVu Sans', sans-serif" font-size="100" font-weight="bold">0.32</text>
<text transform="matrix(0.7489 0 0 0.5535 121.80 409.10)" font-family="'Liberation Sans', 'DejaVu Sans', sans-serif" font-size="100" font-weight="bold">0.28</text>
<text transform="matrix(0.7489 0 0 0.5535 119.56 558.30)" font-family="'Liberation Sans', 'DejaVu Sans', sans-serif" font-size="100" font-weight="bold">0.24</text>
<text transform="matrix(0.7489 0 0 0.5535 164.20 707.50)" font-family="'Liberation Sans', 'DejaVu Sans', sans-serif" font-size="100" font-weight="bold">0.2</text>
<text transform="matrix(0.7489 0 0 0.5535 122.55 856.70)" font-family="'Liberation Sans', 'DejaVu Sans', sans-serif" font-size="100" font-weight="bold">0.16</text>
<text transform="matrix(0.7489 0 0 0.5535 122.55 1005.90)" font-family="'Liberation Sans', 'DejaVu Sans', sans-serif" font-size="100" font-weight="bold">0.12</text>
<text transform="matrix(0.7489 0 0 0.5535 121.80 1155.10)" font-family="'Liberation Sans', 'DejaVu Sans', sans-serif" font-size="100" font-weight="bold">0.08</text>
<text transform="matrix(0.7489 0 0 0.5535 119.56 1304.30)" font-family="'Liberation Sans', 'DejaVu Sans', sans-serif" font-size="100" font-weight="bold">0.04</text>
<text transform="matrix(0.7489 0 0 0.5535 226.66 1453.50)" font-family="'Liberation Sans', 'DejaVu Sans', sans-serif" font-size="100" font-weight="bold">0</text>
<text transform="matrix(0.7489 0 0 0.5535 259.76 1534.60)" font-family="'Liberation Sans', 'DejaVu Sans', sans-serif" font-size="100" font-weight="bold">-1</text>
<text transform="matrix(0.7489 0 0 0.5535 381.88 1534.60)" font-family="'Liberation Sans', 'DejaVu Sans', sans-serif" font-size="100" font-weight="bold">-0.8</text>
<text transform="matrix(0.7489 0 0 0.5535 535.61 1534.60)" font-family="'Liberation Sans', 'DejaVu Sans', sans-serif" font-size="100" font-weight="bold">-0.6</text>
<text transform="matrix(0.7489 0 0 0.5535 687.46 1534.60)" font-family="'Liberation Sans', 'DejaVu Sans', sans-serif" font-size="100" font-weight="bold">-0.4</text>
<text transform="matrix(0.7489 0 0 0.5535 842.31 1534.60)" font-family="'Liberation Sans', 'DejaVu Sans', sans-serif" font-size="100" font-weight="bold">-0.2</text>
<text transform="matrix(0.7489 0 0 0.5535 1039.36 1534.60)" font-family="'Liberation Sans', 'DejaVu Sans', sans-serif" font-size="100" font-weight="bold">0</text>
<text transform="matrix(0.7489 0 0 0.5535 1161.48 1534.60)" font-family="'Liberation Sans', 'DejaVu Sans', sans-serif" font-size="100" font-weight="bold">0.2</text>
<text transform="matrix(0.7489 0 0 0.5535 1313.33 1534.60)" font-family="'Liberation Sans', 'DejaVu Sans', sans-serif" font-size="100" font-weight="bold">0.4</text>
<text transform="matrix(0.7489 0 0 0.5535 1468.18 1534.60)" font-family="'Liberation Sans', 'DejaVu Sans', sans-serif" font-size="100" font-weight="bold">0.6</text>
<text transform="matrix(0.7489 0 0 0.5535 1621.15 1534.60)" font-family="'Liberation Sans', 'DejaVu Sans', sans-serif" font-size="100" font-weight="bold">0.8</text>
<text transform="matrix(0.7489 0 0 0.5535 1804.61 1534.60)" font-family="'Liberation Sans', 'DejaVu Sans', sans-serif" font-size="100" font-weight="bold">1</text>
<text transform="matrix(0.8083 0 0 0.6436 1124.27 1618.98)" font-family="'Liberation Sans', 'DejaVu Sans', sans-serif" font-size="100" font-weight="bold">(m)</text>
<text transform="matrix(0.9300 0 0 0.7391 1059.86 1620.50)" font-family="'Liberation Serif', 'DejaVu Serif', serif" font-size="100" font-weight="bold" font-style="italic">x</text>
<text transform="translate(84.07 805.03) rotate(-90) scale(0.6317 0.8298)" font-family="'Liberation Sans', 'DejaVu Sans', sans-serif" font-size="100" font-weight="bold">(m)</text>
<text transform="translate(84.50 851.86) rotate(-90) scale(0.6373 0.7736)" font-family="'Liberation Sans', 'DejaVu Sans', sans-serif" font-size="100" font-weight="bold" font-style="italic">z</text>
</g>
<g stroke="#000" fill="none">
<path d="M1793.2 2252V3380" stroke-width="3.8"/>
<path d="M255.4 2250V3384.2" stroke-width="7.6"/>
<path d="M251.6 3381H1797" stroke-width="6.4"/>
<path d="M259 2307.9H266.6M259 2420.8H266.6M259 2533.6H266.6M259 2646.4H266.6M259 2759.3H266.6M259 2872.2H266.6M259 2985.0H266.6M259 3097.8H266.6M259 3210.7H266.6M259 3323.6H266.6" stroke-width="4.8" stroke-linecap="round"/>
<path d="M356.6 3383V3395.6M523.5 3383V3395.6M690.4 3383V3395.6M857.3 3383V3395.6M1024.2 3383V3395.6M1191.1 3383V3395.6M1358.0 3383V3395.6M1524.9 3383V3395.6M1691.8 3383V3395.6" stroke-width="6.8" stroke-linecap="round"/>
</g>
<g transform="scale(1.38 1)" fill="none" stroke-linejoin="round">
<polygon points="217.39,3380.00 240.58,3379.53 296.38,3377.96 352.17,3372.51 407.97,3356.89 463.77,3320.09 519.57,3249.44 526.81,3237.37 534.06,3224.64 541.30,3211.27 548.55,3197.28 555.80,3182.71 563.04,3167.60 570.29,3152.00 577.54,3135.98 584.78,3119.59 592.03,3102.91 599.28,3086.03 606.52,3069.03 613.77,3052.00 621.01,3035.06 628.26,3018.31 635.51,3001.84 642.75,2985.79 650.00,2970.25 657.25,2955.35 664.49,2941.20 671.74,2927.89 678.99,2915.55 686.23,2904.26 686.96,2903.19 742.75,2861.13 798.55,2905.34 805.80,2916.74 813.04,2929.18 820.29,2942.57 827.54,2956.81 834.78,2971.78 842.03,2987.37 849.28,3003.47 856.52,3019.97 863.77,3036.75 871.01,3053.70 878.26,3070.73 885.51,3087.72 892.75,3104.59 900.00,3121.24 907.25,3137.60 914.49,3153.58 921.74,3169.13 928.99,3184.19 936.23,3198.70 943.48,3212.63 950.72,3225.94 957.97,3238.61 965.22,3250.61 965.94,3251.77 1021.74,3321.43 1077.54,3357.51 1133.33,3372.74 1189.13,3378.03 1244.93,3379.55 1268.12,3380.00" fill="#808080" stroke="#000" stroke-width="3.6"/>
<polyline points="185.51,2485.00 431.88,2485.00 571.01,2498.00 683.33,2542.00 742.75,2592.50 782.61,2660.00 826.09,2750.00 862.32,2845.00 884.78,2900.00 915.22,2980.00 935.51,3032.00 964.49,3101.00 1019.57,3179.00 1075.36,3235.00 1133.33,3252.50 1187.68,3261.00 1301.81,3261.00" stroke="#000" stroke-width="5.5"/>
<g fill="#000"><circle cx="431.88" cy="2482.00" r="9"/><circle cx="469.35" cy="2484.00" r="9"/><circle cx="506.81" cy="2484.00" r="9"/><circle cx="544.20" cy="2484.00" r="9"/><circle cx="574.49" cy="2503.40" r="9"/><circle cx="609.86" cy="2499.00" r="9"/><circle cx="671.38" cy="2530.00" r="9"/><circle cx="702.68" cy="2549.60" r="9"/><circle cx="731.16" cy="2574.00" r="9"/><circle cx="756.16" cy="2601.50" r="9"/><circle cx="777.17" cy="2631.50" r="9"/><circle cx="792.75" cy="2666.50" r="9"/><circle cx="807.97" cy="2700.00" r="9"/><circle cx="824.28" cy="2734.00" r="9"/><circle cx="836.96" cy="2769.00" r="9"/><circle cx="850.72" cy="2804.00" r="9"/><circle cx="865.22" cy="2839.00" r="9"/><circle cx="878.62" cy="2874.00" r="9"/><circle cx="892.75" cy="2909.50" r="9"/><circle cx="906.52" cy="2945.00" r="9"/><circle cx="914.13" cy="2981.50" r="9"/><circle cx="925.65" cy="3017.00" r="9"/><circle cx="937.25" cy="3052.40" r="9"/><circle cx="956.52" cy="3084.80" r="9"/><circle cx="973.91" cy="3117.40" r="9"/><circle cx="991.30" cy="3151.00" r="9"/><circle cx="1011.30" cy="3182.40" r="9"/><circle cx="1039.86" cy="3205.00" r="9"/><circle cx="1070.29" cy="3225.70" r="9"/></g>
<g fill="#f39"><path d="M415.62 2490.50L425.22 2481.50L434.82 2490.50L425.22 2499.50Z"/><path d="M451.70 2485.00L461.30 2476.00L470.90 2485.00L461.30 2494.00Z"/><path d="M490.40 2484.00L500.00 2475.00L509.60 2484.00L500.00 2493.00Z"/><path d="M528.08 2483.00L537.68 2474.00L547.28 2483.00L537.68 2492.00Z"/><path d="M565.47 2488.00L575.07 2479.00L584.67 2488.00L575.07 2497.00Z"/><rect x="-6.5" y="-6.5" width="13" height="13" transform="translate(609.86 2499.00) rotate(0.0)"/><rect x="-6.5" y="-6.5" width="13" height="13" transform="translate(631.16 2529.00) rotate(42.3)"/><rect x="-6.5" y="-6.5" width="13" height="13" transform="translate(663.33 2547.70) rotate(40.4)"/><rect x="-6.5" y="-6.5" width="13" height="13" transform="translate(687.46 2577.00) rotate(50.8)"/><rect x="-6.5" y="-6.5" width="13" height="13" transform="translate(710.14 2605.00) rotate(59.9)"/><rect x="-6.5" y="-6.5" width="13" height="13" transform="translate(724.64 2641.00) rotate(66.8)"/><rect x="-6.5" y="-6.5" width="13" height="13" transform="translate(740.22 2675.00) rotate(67.2)"/><rect x="-6.5" y="-6.5" width="13" height="13" transform="translate(753.62 2710.00) rotate(69.3)"/><rect x="-6.5" y="-6.5" width="13" height="13" transform="translate(766.30 2744.00) rotate(62.1)"/><rect x="-6.5" y="-6.5" width="13" height="13" transform="translate(788.04 2775.00) rotate(57.9)"/><rect x="-6.5" y="-6.5" width="13" height="13" transform="translate(806.16 2807.50) rotate(61.2)"/><rect x="-6.5" y="-6.5" width="13" height="13" transform="translate(824.28 2841.00) rotate(59.7)"/><rect x="-6.5" y="-6.5" width="13" height="13" transform="translate(844.20 2872.50) rotate(55.6)"/><rect x="-6.5" y="-6.5" width="13" height="13" transform="translate(867.03 2903.50) rotate(53.4)"/><rect x="-6.5" y="-6.5" width="13" height="13" transform="translate(888.41 2932.00) rotate(60.5)"/><rect x="-6.5" y="-6.5" width="13" height="13" transform="translate(902.90 2967.00) rotate(63.7)"/><rect x="-6.5" y="-6.5" width="13" height="13" transform="translate(921.01 2998.00) rotate(57.9)"/><rect x="-6.5" y="-6.5" width="13" height="13" transform="translate(942.39 3030.00) rotate(53.6)"/><rect x="-6.5" y="-6.5" width="13" height="13" transform="translate(966.38 3059.50) rotate(45.9)"/><rect x="-6.5" y="-6.5" width="13" height="13" transform="translate(994.64 3084.00) rotate(47.5)"/><rect x="-6.5" y="-6.5" width="13" height="13" transform="translate(1016.38 3114.00) rotate(54.8)"/><rect x="-6.5" y="-6.5" width="13" height="13" transform="translate(1037.46 3144.60) rotate(49.5)"/><rect x="-6.5" y="-6.5" width="13" height="13" transform="translate(1053.62 3157.60) rotate(52.9)"/><rect x="-6.5" y="-6.5" width="13" height="13" transform="translate(1059.71 3174.00) rotate(61.3)"/><rect x="-6.5" y="-6.5" width="13" height="13" transform="translate(1072.46 3192.00) rotate(54.7)"/></g>
<polyline points="184.86,3291.00 289.86,3291.00 438.41,3280.00 498.19,3271.50 579.71,3247.50 652.17,3202.50 724.64,3132.50 797.10,3062.50 855.07,3005.00 905.80,2935.00 928.62,2900.00 984.78,2835.00 1042.75,2772.50 1086.23,2739.00 1126.09,2717.50 1138.77,2714.00 1301.81,2714.00" stroke="#369" stroke-width="12.9" stroke-linecap="round" stroke-dasharray="0 14.25"/>
<polyline points="185.00,2485.40 463.90,2485.13 467.67,2484.85 471.48,2484.61 475.33,2484.42 479.23,2484.27 483.15,2484.18 487.11,2484.13 491.10,2484.12 495.11,2484.17 499.15,2484.26 503.22,2484.41 507.30,2484.60 511.40,2484.85 515.51,2485.15 519.63,2485.50 523.77,2485.91 527.91,2486.37 532.05,2486.88 536.20,2487.45 540.34,2488.08 544.48,2488.76 548.62,2489.50 552.74,2490.30 556.86,2491.16 560.96,2492.07 565.05,2493.05 569.11,2494.08 573.15,2495.18 577.17,2496.34 581.17,2497.56 585.13,2498.85 589.06,2500.20 592.96,2501.61 596.82,2503.09 600.64,2504.64 604.42,2506.25 608.15,2507.93 611.84,2509.68 615.48,2511.50 619.06,2513.38 622.59,2515.34 626.06,2517.36 629.48,2519.46 632.82,2521.63 636.11,2523.87 639.32,2526.19 642.47,2528.58 645.55,2531.04 648.57,2533.57 651.52,2536.16 654.41,2538.82 657.24,2541.55 660.01,2544.33 662.73,2547.18 665.39,2550.08 668.00,2553.03 670.56,2556.04 673.08,2559.10 675.54,2562.21 677.96,2565.36 680.34,2568.57 682.68,2571.81 684.98,2575.09 687.24,2578.42 689.47,2581.78 691.66,2585.17 693.82,2588.60 695.96,2592.05 698.06,2595.54 700.14,2599.05 702.20,2602.59 704.23,2606.15 706.24,2609.73 708.24,2613.33 710.22,2616.95 712.18,2620.58 714.14,2624.23 716.08,2627.88 718.01,2631.54 719.94,2635.21 721.86,2638.89 723.77,2642.56 725.69,2646.24 727.61,2649.91 729.53,2653.58 731.45,2657.25 733.38,2660.91 735.32,2664.56 737.27,2668.19 739.23,2671.82 741.19,2675.44 743.17,2679.04 745.15,2682.64 747.15,2686.22 749.15,2689.80 751.16,2693.37 753.17,2696.92 755.20,2700.47 757.23,2704.01 759.27,2707.55 761.31,2711.07 763.36,2714.59 765.42,2718.10 767.48,2721.60 769.55,2725.10 771.62,2728.59 773.70,2732.07 775.78,2735.55 777.87,2739.02 779.96,2742.49 782.06,2745.95 784.16,2749.40 786.26,2752.86 788.37,2756.31 790.48,2759.75 792.59,2763.19 794.71,2766.63 796.83,2770.06 798.95,2773.50 801.07,2776.93 803.19,2780.35 805.32,2783.78 807.44,2787.20 809.57,2790.63 811.69,2794.05 813.82,2797.47 815.95,2800.89 818.07,2804.31 820.20,2807.73 822.32,2811.15 824.45,2814.57 826.57,2817.99 828.69,2821.42 830.81,2824.84 832.93,2828.27 835.04,2831.70 837.16,2835.13 839.27,2838.56 841.37,2842.00 843.47,2845.44 845.57,2848.89 847.67,2852.33 849.76,2855.79 851.85,2859.24 853.93,2862.70 856.01,2866.17 858.08,2869.64 860.15,2873.12 862.21,2876.60 864.27,2880.09 866.32,2883.58 868.36,2887.08 870.40,2890.59 872.42,2894.11 874.45,2897.63 876.46,2901.16 878.47,2904.70 880.47,2908.24 882.46,2911.80 884.45,2915.36 886.43,2918.92 888.41,2922.49 890.39,2926.06 892.38,2929.64 894.36,2933.21 896.34,2936.78 898.33,2940.35 900.33,2943.92 902.33,2947.48 904.34,2951.04 906.36,2954.59 908.39,2958.14 910.43,2961.67 912.49,2965.20 914.56,2968.71 916.65,2972.21 918.75,2975.70 920.88,2979.17 923.03,2982.63 925.20,2986.07 927.39,2989.49 929.60,2992.89 931.85,2996.27 934.12,2999.63 936.41,3002.97 938.74,3006.28 941.10,3009.57 943.50,3012.84 945.92,3016.07 948.39,3019.28 950.89,3022.45 953.43,3025.60 956.00,3028.72 958.62,3031.80 961.28,3034.84 963.99,3037.85 966.74,3040.83 969.54,3043.77 972.38,3046.67 975.28,3049.52 978.21,3052.35 981.19,3055.14 984.19,3057.91 987.21,3060.66 990.23,3063.41 993.24,3066.16 996.24,3068.92 999.22,3071.70 1002.16,3074.50 1005.06,3077.33 1007.90,3080.20 1010.68,3083.12 1013.38,3086.09 1016.00,3089.13 1018.53,3092.23 1020.97,3095.40 1023.33,3098.62 1025.62,3101.90 1027.84,3105.24 1029.99,3108.63 1032.07,3112.07 1034.10,3115.55 1036.07,3119.08 1038.00,3122.65 1039.87,3126.25 1041.71,3129.89 1043.50,3133.57 1045.27,3137.27 1047.00,3141.00 1048.72,3144.74 1050.44,3148.50 1052.15,3152.26 1053.87,3156.02 1055.61,3159.77 1057.38,3163.50 1059.18,3167.22 1061.03,3170.91 1062.92,3174.56 1064.88,3178.18 1066.91,3181.75 1069.02,3185.27 1071.21,3188.72 1073.50,3192.12 1075.87,3195.45 1078.32,3198.71 1080.86,3201.91 1083.48,3205.03 1086.18,3208.07 1088.96,3211.04 1091.81,3213.93 1094.74,3216.74 1097.74,3219.46 1100.81,3222.10 1103.94,3224.65 1107.15,3227.11 1110.41,3229.47 1113.74,3231.74 1117.13,3233.91 1120.58,3235.98 1124.08,3237.95 1127.64,3239.81 1131.26,3241.56 1134.92,3243.21 1138.63,3244.74 1142.39,3246.16 1146.19,3247.45 1150.04,3248.63 1153.92,3249.69 1157.85,3250.63 1161.81,3251.44 1165.81,3252.13 1169.84,3252.72 1173.89,3253.22 1177.97,3253.62 1182.07,3253.95 1186.19,3254.20 1190.32,3254.38 1194.46,3254.51 1198.61,3254.60 1202.77,3254.64 1206.92,3254.65 1211.08,3254.64 1215.23,3254.62 1219.37,3254.59 1223.51,3254.55 1227.64,3254.53 1231.75,3254.52 1235.86,3254.52 1239.95,3254.55 1244.03,3254.62 1248.10,3254.72 1252.15,3254.87 1256.18,3255.06 1260.20,3255.32 1264.19,3255.64 1268.17,3256.03 1272.13,3256.50 1276.07,3257.05 1279.98,3257.69 1283.87,3258.42" stroke="#093" stroke-width="11.5" stroke-linecap="round" stroke-dasharray="16.6 39.9"/>
</g>
<rect x="258.6" y="1817.6" width="1538.3" height="435.7" fill="#fff" stroke="#606060" stroke-width="2.3"/>
<g fill="#000"><ellipse cx="307.5" cy="1856" rx="13" ry="9.6"/><ellipse cx="359" cy="1856" rx="13" ry="9.6"/><ellipse cx="411" cy="1856" rx="13" ry="9.6"/></g>
<g fill="#f39"><path d="M294.0 1928L307.5 1918.8L321.0 1928L307.5 1937.2Z"/><path d="M345.5 1928L359 1918.8L372.5 1928L359 1937.2Z"/><path d="M397.5 1928L411 1918.8L424.5 1928L411 1937.2Z"/></g>
<path d="M273.5 2000H450" stroke="#000" stroke-width="4.6"/>
<rect x="273.5" y="2047" width="176.5" height="50.5" fill="#808080"/>
<path d="M273.5 2048H450" stroke="#000" stroke-width="4.6"/>
<g stroke="#093" stroke-width="10.5" stroke-linecap="round"><path d="M278.5 2144H303M356 2144H381.5M434.5 2144H446"/></g>
<g fill="#369"><ellipse cx="280.0" cy="2217.5" rx="8.4" ry="6.3"/><ellipse cx="299.7" cy="2217.5" rx="8.4" ry="6.3"/><ellipse cx="319.4" cy="2217.5" rx="8.4" ry="6.3"/><ellipse cx="339.1" cy="2217.5" rx="8.4" ry="6.3"/><ellipse cx="358.8" cy="2217.5" rx="8.4" ry="6.3"/><ellipse cx="378.5" cy="2217.5" rx="8.4" ry="6.3"/><ellipse cx="398.2" cy="2217.5" rx="8.4" ry="6.3"/><ellipse cx="417.9" cy="2217.5" rx="8.4" ry="6.3"/><ellipse cx="437.6" cy="2217.5" rx="8.4" ry="6.3"/></g>
<g fill="#000">
<text transform="matrix(0.5302 0 0 0.4000 461.82 1870.00)" font-family="'Liberation Sans', 'DejaVu Sans', sans-serif" font-size="100" font-weight="bold">Measured flow profile (Sivakumaran et al. 1983)</text>
<text transform="matrix(0.5264 0 0 0.4000 461.84 1941.50)" font-family="'Liberation Sans', 'DejaVu Sans', sans-serif" font-size="100" font-weight="bold">Measured bottom pressure (Sivakumaran et al. 1983)</text>
<text transform="matrix(0.5233 0 0 0.4000 461.86 2013.00)" font-family="'Liberation Sans', 'DejaVu Sans', sans-serif" font-size="100" font-weight="bold">Initial Flow profile (Castro-Orgaz et al. 2022)</text>
<text transform="matrix(0.5188 0 0 0.4000 461.89 2085.00)" font-family="'Liberation Sans', 'DejaVu Sans', sans-serif" font-size="100" font-weight="bold">Bed profile</text>
<text transform="matrix(0.5224 0 0 0.4000 462.91 2157.50)" font-family="'Liberation Sans', 'DejaVu Sans', sans-serif" font-size="100" font-weight="bold">Computed bottom pressure distribution</text>
<text transform="matrix(0.5207 0 0 0.4000 463.44 2230.00)" font-family="'Liberation Sans', 'DejaVu Sans', sans-serif" font-size="100" font-weight="bold">computed free surface velocity distribution</text>
<text transform="matrix(0.7148 0 0 0.7989 876.64 1758.42)" font-family="'Liberation Serif', 'DejaVu Serif', serif" font-size="100">(</text>
<text transform="matrix(0.8431 0 0 0.8099 901.16 1757.88)" font-family="'Liberation Serif', 'DejaVu Serif', serif" font-size="100" font-weight="bold">b</text>
<text transform="matrix(0.7308 0 0 0.7989 950.81 1758.42)" font-family="'Liberation Serif', 'DejaVu Serif', serif" font-size="100">)</text>
<text transform="matrix(0.5922 0 0 0.4085 199.34 2266.09)" font-family="'Liberation Sans', 'DejaVu Sans', sans-serif" font-size="100" font-weight="bold">4</text>
<text transform="matrix(0.5922 0 0 0.4085 152.32 2378.94)" font-family="'Liberation Sans', 'DejaVu Sans', sans-serif" font-size="100" font-weight="bold">3.6</text>
<text transform="matrix(0.5922 0 0 0.4085 152.32 2491.79)" font-family="'Liberation Sans', 'DejaVu Sans', sans-serif" font-size="100" font-weight="bold">3.2</text>
<text transform="matrix(0.5922 0 0 0.4085 151.72 2604.64)" font-family="'Liberation Sans', 'DejaVu Sans', sans-serif" font-size="100" font-weight="bold">2.8</text>
<text transform="matrix(0.5922 0 0 0.4085 149.95 2717.49)" font-family="'Liberation Sans', 'DejaVu Sans', sans-serif" font-size="100" font-weight="bold">2.4</text>
<text transform="matrix(0.5922 0 0 0.4085 201.71 2830.34)" font-family="'Liberation Sans', 'DejaVu Sans', sans-serif" font-size="100" font-weight="bold">2</text>
<text transform="matrix(0.5922 0 0 0.4085 152.32 2943.19)" font-family="'Liberation Sans', 'DejaVu Sans', sans-serif" font-size="100" font-weight="bold">1.6</text>
<text transform="matrix(0.5922 0 0 0.4085 152.32 3056.04)" font-family="'Liberation Sans', 'DejaVu Sans', sans-serif" font-size="100" font-weight="bold">1.2</text>
<text transform="matrix(0.5922 0 0 0.4085 151.72 3168.89)" font-family="'Liberation Sans', 'DejaVu Sans', sans-serif" font-size="100" font-weight="bold">0.8</text>
<text transform="matrix(0.5922 0 0 0.4085 149.95 3281.74)" font-family="'Liberation Sans', 'DejaVu Sans', sans-serif" font-size="100" font-weight="bold">0.4</text>
<text transform="matrix(0.5922 0 0 0.4085 201.71 3394.59)" font-family="'Liberation Sans', 'DejaVu Sans', sans-serif" font-size="100" font-weight="bold">0</text>
<text transform="matrix(0.5922 0 0 0.4085 329.56 3453.39)" font-family="'Liberation Sans', 'DejaVu Sans', sans-serif" font-size="100" font-weight="bold">-8</text>
<text transform="matrix(0.5922 0 0 0.4085 496.79 3453.39)" font-family="'Liberation Sans', 'DejaVu Sans', sans-serif" font-size="100" font-weight="bold">-6</text>
<text transform="matrix(0.5922 0 0 0.4085 662.55 3453.39)" font-family="'Liberation Sans', 'DejaVu Sans', sans-serif" font-size="100" font-weight="bold">-4</text>
<text transform="matrix(0.5922 0 0 0.4085 830.67 3453.39)" font-family="'Liberation Sans', 'DejaVu Sans', sans-serif" font-size="100" font-weight="bold">-2</text>
<text transform="matrix(0.5922 0 0 0.4085 1007.47 3453.39)" font-family="'Liberation Sans', 'DejaVu Sans', sans-serif" font-size="100" font-weight="bold">0</text>
<text transform="matrix(0.5922 0 0 0.4085 1174.41 3453.39)" font-family="'Liberation Sans', 'DejaVu Sans', sans-serif" font-size="100" font-weight="bold">2</text>
<text transform="matrix(0.5922 0 0 0.4085 1340.76 3453.39)" font-family="'Liberation Sans', 'DejaVu Sans', sans-serif" font-size="100" font-weight="bold">4</text>
<text transform="matrix(0.5922 0 0 0.4085 1508.29 3453.39)" font-family="'Liberation Sans', 'DejaVu Sans', sans-serif" font-size="100" font-weight="bold">6</text>
<text transform="matrix(0.5922 0 0 0.4085 1674.94 3453.39)" font-family="'Liberation Sans', 'DejaVu Sans', sans-serif" font-size="100" font-weight="bold">8</text>
<text stroke="#000" stroke-width="2.2" transform="translate(110.70 2867.78) rotate(-90) scale(0.6125 0.7609)" font-family="'Liberation Serif', 'DejaVu Serif', serif" font-size="100" font-style="italic">z</text>
<text stroke="#000" stroke-width="2.2" transform="translate(122.56 2832.63) rotate(-90) scale(0.7537 0.9701)" font-family="'Liberation Serif', 'DejaVu Serif', serif" font-size="100" font-style="italic">/</text>
<text stroke="#000" stroke-width="2.2" transform="translate(109.71 2809.50) rotate(-90) scale(0.6111 0.7044)" font-family="'Liberation Serif', 'DejaVu Serif', serif" font-size="100" font-style="italic">y</text>
<text stroke="#000" stroke-width="2.2" transform="translate(126.27 2783.61) rotate(-90) scale(0.5366 0.7292)" font-family="'Liberation Serif', 'DejaVu Serif', serif" font-size="100" font-style="italic">c</text>
<text transform="matrix(0.7640 0 0 0.5652 1022.93 3517.00)" font-family="'Liberation Serif', 'DejaVu Serif', serif" font-size="100" font-weight="bold" font-style="italic">x</text>
<text transform="matrix(1.0000 0 0 0.7194 1060.00 3526.06)" font-family="'Liberation Serif', 'DejaVu Serif', serif" font-size="100" font-weight="bold" font-style="italic">/</text>
<text transform="matrix(0.7679 0 0 0.5368 1092.45 3516.23)" font-family="'Liberation Serif', 'DejaVu Serif', serif" font-size="100" font-weight="bold" font-style="italic">y</text>
<text transform="matrix(0.4359 0 0 0.3042 1127.39 3529.70)" font-family="'Liberation Serif', 'DejaVu Serif', serif" font-size="100">c</text>
</g>
</svg>
</body></html>
